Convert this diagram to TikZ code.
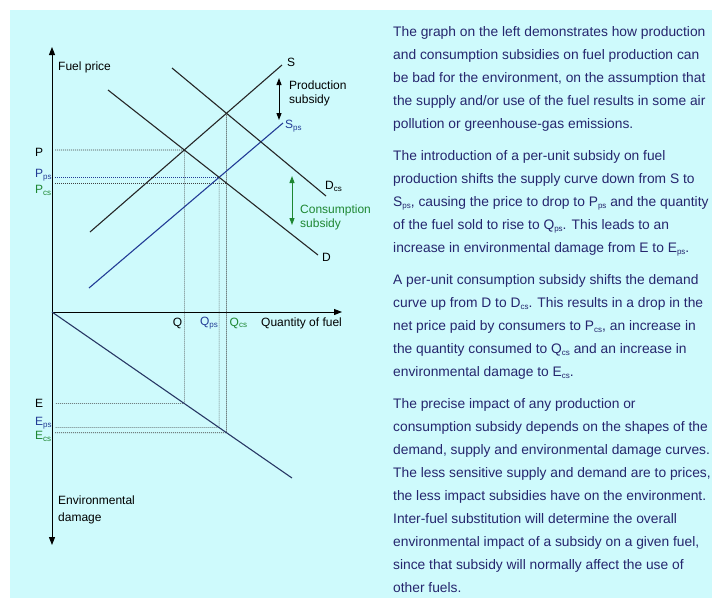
\documentclass[tikz,border=0pt]{standalone}
\usepackage{fontspec}
\setmainfont{Liberation Sans}
\usepackage{xcolor}
\usetikzlibrary{positioning, arrows.meta, calc}

\definecolor{panelcyan}{RGB}{206,250,252}
\definecolor{textnavy}{RGB}{38,38,110}
\definecolor{psblue}{RGB}{35,60,150}
\definecolor{csgreen}{RGB}{30,135,50}
\definecolor{dmgnavy}{RGB}{40,55,100}
\newcommand{\lowsub}[1]{\raisebox{-0.3ex}{\fontsize{8}{9}\selectfont #1}}

\begin{document}
\begin{tikzpicture}[x=1pt, y=-1pt,
	curve/.style={line width=1.1pt, draw=black!85},
	guide/.style={line width=0.6pt, draw=black!75, dash pattern=on 1pt off 1pt},
	axis/.style={line width=1pt, -{Triangle[length=8pt, width=6pt]}},
	subsidy/.style={line width=1pt, {Triangle[length=7pt, width=5pt]}-{Triangle[length=7pt, width=5pt]}},
	lbl/.style={inner sep=0pt, font=\fontsize{12}{14}\selectfont},
	para/.style={inner sep=0pt, anchor=base west, align=left, text=textnavy, font=\fontsize{13.8}{22.9}\selectfont}]
	% Panel
	\useasboundingbox (0,0) rectangle (712,598);
	\fill[white] (0,0) rectangle (712,598);
	\fill[panelcyan] (10,10) rectangle (712,598);
	
	% Axes
	\coordinate (origin) at (52,312);
	\coordinate (ytip) at (52,47);
	\coordinate (xtip) at (342,312);
	\coordinate (dtip) at (52,545);
	\draw[axis] (origin) -- (ytip);
	\draw[axis] (origin) -- (xtip);
	\draw[axis] (origin) -- (dtip);
	
	% Curves
	\coordinate (s1) at (90,232);    \coordinate (s2) at (282,65);
	\coordinate (sps1) at (89,288);  \coordinate (sps2) at (283,123);
	\coordinate (d1) at (108,90);    \coordinate (d2) at (318,255);
	\coordinate (dcs1) at (172,68);  \coordinate (dcs2) at (326,196);
	\coordinate (dmg) at (292,478);
	
	% Equilibria
	\coordinate (eq) at (intersection of s1--s2 and d1--d2);
	\coordinate (eqps) at (intersection of sps1--sps2 and d1--d2);
	\coordinate (eqcs) at (intersection of s1--s2 and dcs1--dcs2);
	\coordinate (q) at (eq |- origin);
	\coordinate (qps) at (eqps |- origin);
	\coordinate (qcs) at (eqcs |- origin);
	\coordinate (pcs) at (intersection of d1--d2 and eqcs--qcs);
	\coordinate (e) at (intersection of origin--dmg and eq--q);
	\coordinate (eps) at (intersection of origin--dmg and eqps--qps);
	\coordinate (ecs) at (intersection of origin--dmg and eqcs--qcs);
	
	% Guides
	\draw[guide] ($(eq -| origin)+(3,0)$) -- (eq) -- (e) -- ($(e -| origin)+(3,0)$);
	\draw[guide, draw=psblue] ($(eqps -| origin)+(3,0)$) -- (eqps);
	\draw[guide] (eqps) -- (eps) -- ($(eps -| origin)+(3,0)$);
	\draw[guide] ($(pcs -| origin)+(3,0)$) -- (pcs);
	\draw[guide] (eqcs) -- (ecs) -- ($(ecs -| origin)+(3,0)$);
	
	\draw[curve] (s1) -- (s2);
	\draw[curve, draw=psblue] (sps1) -- (sps2);
	\draw[curve] (d1) -- (d2);
	\draw[curve] (dcs1) -- (dcs2);
	\draw[curve, draw=dmgnavy] (origin) -- (dmg);
	
	% Subsidies
	\coordinate (prodtop) at (279,78);
	\coordinate (prodbot) at (279,120);
	\coordinate (constop) at (292,176);
	\coordinate (consbot) at (292,225);
	\draw[subsidy] (prodtop) -- (prodbot);
	\draw[subsidy, draw=csgreen, fill=csgreen] (constop) -- (consbot);
	
	% Labels
	\node[lbl, anchor=west] (pricelab) at (58,67) {Fuel price};
	\node[lbl, anchor=west] (qtylab) at (261,323) {Quantity of fuel};
	\node[lbl, anchor=west, align=left, font=\fontsize{12}{17}\selectfont] (envlab) at (58,510) {Environmental\\damage};
	\node[lbl, anchor=west, align=left] (prodlab) at (289,93) {Production\\subsidy};
	\node[lbl, anchor=west, align=left, text=csgreen] (conslab) at (300,217) {Consumption\\subsidy};
	
	\node[lbl, anchor=west] (slab) at ([shift={(5,-3)}]s2) {S};
	\node[lbl, anchor=west, text=psblue] (spslab) at ([shift={(2,3)}]sps2) {S\lowsub{ps}};
	\node[lbl, anchor=west] (dlab) at ([shift={(4,2)}]d2) {D};
	\node[lbl, anchor=west] (dcslab) at ([shift={(-1,-10)}]dcs2) {D\lowsub{cs}};
	
	\node[lbl, anchor=west] (plab) at (35,152) {P};
	\node[lbl, anchor=west, text=psblue] (ppslab) at (35,175) {P\lowsub{ps}};
	\node[lbl, anchor=west, text=csgreen] (pcslab) at (35,190) {P\lowsub{cs}};
	\node[lbl, anchor=west] (elab) at (35,403) {E};
	\node[lbl, anchor=west, text=psblue] (epslab) at (35,423) {E\lowsub{ps}};
	\node[lbl, anchor=west, text=csgreen] (ecslab) at (35,436) {E\lowsub{cs}};
	
	\node[lbl, anchor=east] (qlab) at ([shift={(-2,11)}]q) {Q};
	\node[lbl, anchor=east, text=psblue] (qpslab) at ([shift={(-1,11)}]qps) {Q\lowsub{ps}};
	\node[lbl, anchor=west, text=csgreen] (qcslab) at ([shift={(3,11)}]qcs) {Q\lowsub{cs}};
	
	% Text
	\node[para] (blurb) at (393,592) {The graph on the left demonstrates how production\\
		and consumption subsidies on fuel production can\\
		be bad for the environment, on the assumption that\\
		the supply and/or use of the fuel results in some air\\
		pollution or greenhouse-gas emissions.\\[9.5pt]
		The introduction of a per-unit subsidy on fuel\\
		production shifts the supply curve down from S to\\
		S\lowsub{ps}, causing the price to drop to P\lowsub{ps} and the quantity\\
		of the fuel sold to rise to Q\lowsub{ps}. This leads to an\\
		increase in environmental damage from E to E\lowsub{ps}.\\[9.5pt]
		A per-unit consumption subsidy shifts the demand\\
		curve up from D to D\lowsub{cs}. This results in a drop in the\\
		net price paid by consumers to P\lowsub{cs}, an increase in\\
		the quantity consumed to Q\lowsub{cs} and an increase in\\
		environmental damage to E\lowsub{cs}.\\[9.5pt]
		The precise impact of any production or\\
		consumption subsidy depends on the shapes of the\\
		demand, supply and environmental damage curves.\\
		The less sensitive supply and demand are to prices,\\
		the less impact subsidies have on the environment.\\
		Inter-fuel substitution will determine the overall\\
		environmental impact of a subsidy on a given fuel,\\
		since that subsidy will normally affect the use of\\
		other fuels.};
\end{tikzpicture}
\end{document}
